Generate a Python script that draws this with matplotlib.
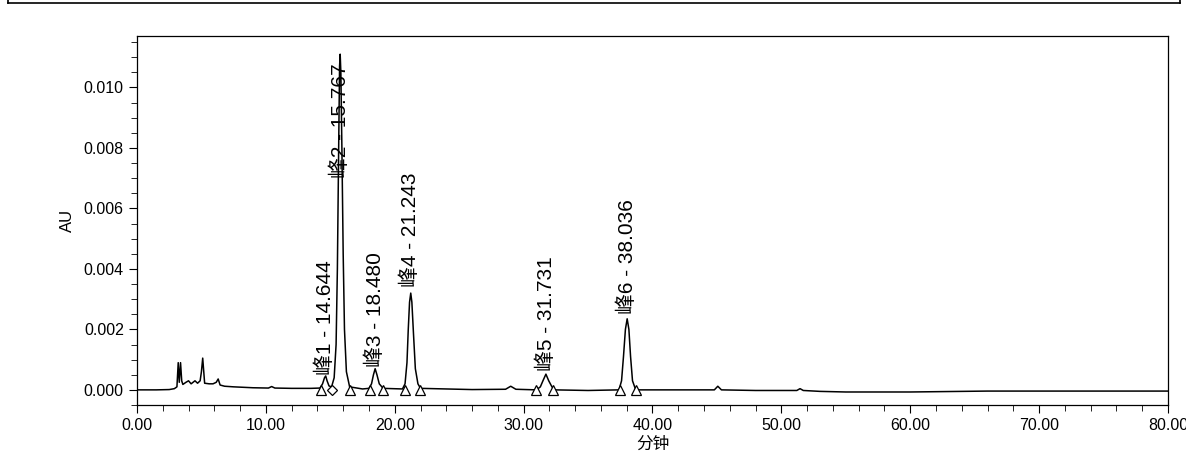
import matplotlib
matplotlib.use("Agg")
import matplotlib.pyplot as plt
from matplotlib.ticker import MultipleLocator, FormatStrFormatter
from matplotlib.lines import Line2D

plt.rcParams['font.family'] = ['Liberation Sans', 'Noto Sans CJK SC', 'DejaVu Sans']

# chromatogram trace (min, AU)
t = [0.0, 1.5, 2.5, 2.9, 3.1, 3.2, 3.28, 3.38, 3.47, 3.56, 3.8, 4.0, 4.2, 4.5, 4.7, 4.9,
     5.0, 5.1, 5.25, 5.6, 5.9, 6.15, 6.3, 6.45, 6.8, 7.5, 9.0, 10.2, 10.45, 10.7, 12.0,
     13.5, 14.2, 14.4, 14.55, 14.644, 14.75, 14.9, 15.1, 15.3, 15.45, 15.55, 15.65,
     15.72, 15.767, 15.82, 15.9, 16.0, 16.1, 16.25, 16.5, 17.5, 18.0, 18.2, 18.35,
     18.48, 18.62, 18.8, 19.1, 20.6, 20.8, 20.95, 21.05, 21.15, 21.243, 21.33, 21.45,
     21.6, 21.8, 22.0, 24.0, 26.0, 28.6, 29.0, 29.4, 31.0, 31.3, 31.5, 31.731, 31.95,
     32.2, 32.4, 35.0, 37.4, 37.6, 37.75, 37.9, 38.036, 38.17, 38.3, 38.45, 38.7, 42.0,
     44.8, 45.07, 45.35, 48.0, 51.2, 51.45, 51.7, 53.0, 55.0, 60.0, 64.0, 66.0, 70.0,
     75.0, 80.0]
au = [0.0, 0.0, 0.00001, 0.00004, 0.0001, 0.0009, 0.00025, 0.0009, 0.0003, 0.00018,
      0.00025, 0.0003, 0.0002, 0.0003, 0.00022, 0.0003, 0.0006, 0.00105, 0.00022,
      0.0002, 0.0002, 0.00025, 0.00036, 0.00016, 0.00012, 0.0001, 0.00007, 0.00006,
      0.00011, 0.00006, 0.00005, 0.00005, 0.00006, 0.0002, 0.0004, 0.00046, 0.0003,
      0.00013, 0.0001, 0.0004, 0.0015, 0.004, 0.008, 0.0107, 0.0111, 0.0105, 0.008,
      0.0045, 0.002, 0.0006, 0.0001, 0.00003, 0.00005, 0.0002, 0.0005, 0.0007, 0.0005,
      0.0002, 0.00005, 0.00003, 0.0002, 0.0009, 0.002, 0.0029, 0.0032, 0.0029, 0.0019,
      0.0007, 0.0002, 0.00005, 0.00003, 0.00001, 0.00002, 0.00012, 0.00002, 0.0,
      0.0001, 0.0003, 0.00052, 0.0003, 0.0001, 0.0, -0.00002, 0.0, 0.0003, 0.0011,
      0.002, 0.00235, 0.002, 0.0011, 0.0003, 0.0, 0.0, 0.0, 0.00012, 0.0, -0.00002,
      -0.00002, 0.00004, -0.00002, -0.00005, -0.00007, -0.00007, -0.00005, -0.00004,
      -0.00004, -0.00004, -0.00004]

# peak labels
peak_names = ["峰1", "峰2", "峰3", "峰4", "峰5", "峰6"]
peak_rt = [14.644, 15.767, 18.480, 21.243, 31.731, 38.036]
label_y = [0.0005, 0.0070, 0.00075, 0.0034, 0.00063, 0.0025]

# integration marks (start / end of each peak)
tri_t = [14.27, 16.5, 18.07, 19.08, 20.8, 21.95, 31.0, 32.3, 37.5, 38.7]
dia_t = [15.1]

fig = plt.figure(figsize=(11.86, 4.62), dpi=100)
ax = fig.add_axes([0.1155, 0.1234, 0.8693, 0.7986])

ax.plot(t, au, color='black', lw=1.1)
ax.plot(tri_t, [-0.00002] * len(tri_t), linestyle='none', marker='^', ms=7,
        mfc='white', mec='black', mew=0.9)
ax.plot(dia_t, [-0.00002] * len(dia_t), linestyle='none', marker='D', ms=5,
        mfc='white', mec='black', mew=0.9)

for name, rt, ly in zip(peak_names, peak_rt, label_y):
    ax.text(rt, ly, f"{name} - {rt:.3f}", rotation=90, ha='center', va='bottom',
            fontsize=15, family=['Liberation Sans', 'Noto Sans CJK SC'])

ax.set_xlim(0, 80)
ax.set_ylim(-0.0005, 0.0117)
ax.xaxis.set_major_locator(MultipleLocator(10))
ax.xaxis.set_minor_locator(MultipleLocator(2))
ax.yaxis.set_major_locator(MultipleLocator(0.002))
ax.yaxis.set_minor_locator(MultipleLocator(0.0005))
ax.xaxis.set_major_formatter(FormatStrFormatter('%.2f'))
ax.yaxis.set_major_formatter(FormatStrFormatter('%.3f'))
ax.tick_params(which='major', direction='out', length=6, labelsize=11.5)
ax.tick_params(which='minor', direction='out', length=4)
ax.tick_params(top=False, right=False)
for s in ax.spines.values():
    s.set_linewidth(0.9)

ax.set_xlabel("分钟", fontsize=12, family=['Noto Sans CJK SC'], labelpad=2)
ax.set_ylabel("AU", fontsize=12, labelpad=6)

# frame line of the report box at the top
fig.add_artist(Line2D([8 / 1186, 1180 / 1186], [459 / 462, 459 / 462], color='black', lw=1.2))
fig.add_artist(Line2D([8 / 1186, 8 / 1186], [459 / 462, 1.0], color='black', lw=1.2))
fig.add_artist(Line2D([1180 / 1186, 1180 / 1186], [459 / 462, 1.0], color='black', lw=1.2))

fig.savefig("out.png", dpi=100)
